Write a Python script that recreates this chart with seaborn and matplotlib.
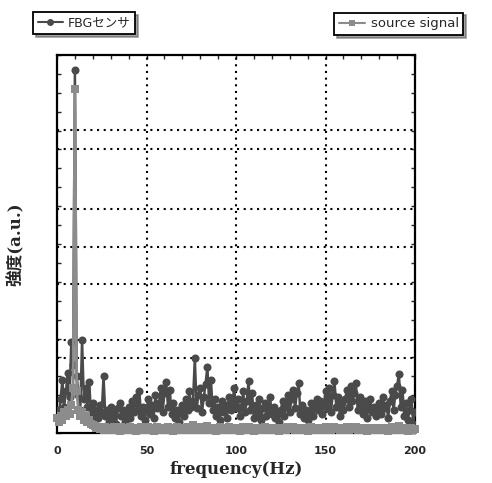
import numpy as np
import pandas as pd
import seaborn as sns
import matplotlib
matplotlib.use("Agg")
import matplotlib.pyplot as plt
from matplotlib.lines import Line2D

# Spectrum sampled every 1 Hz from 0 to 200 Hz
freq_hz = list(range(0, 201))

# FBG sensor amplitude (a.u.)
fbg_sensor = [
    60, 45, 90, 140, 70, 110, 160, 95, 240, 180,
    960, 150, 100, 60, 245, 90, 120, 70, 135, 50,
    80, 35, 60, 40, 75, 55, 150, 45, 60, 30,
    70, 40, 55, 25, 65, 80, 45, 60, 30, 50,
    70, 40, 85, 55, 95, 60, 110, 45, 70, 35,
    60, 90, 50, 75, 40, 100, 65, 80, 120, 55,
    105, 135, 70, 115, 50, 80, 40, 60, 30, 55,
    75, 45, 90, 60, 110, 70, 85, 198, 65, 100,
    120, 55, 95, 130, 175, 80, 140, 60, 90, 45,
    70, 35, 85, 55, 75, 40, 95, 60, 80, 120,
    65, 90, 45, 70, 110, 55, 85, 138, 60, 105,
    40, 75, 50, 90, 35, 65, 80, 45, 60, 95,
    50, 70, 40, 55, 30, 60, 85, 45, 70, 100,
    55, 90, 115, 65, 105, 132, 50, 75, 40, 60,
    35, 55, 80, 45, 70, 90, 60, 85, 50, 75,
    110, 65, 120, 55, 100, 138, 70, 95, 45, 80,
    60, 90, 115, 70, 125, 85, 105, 132, 60, 95,
    75, 50, 85, 40, 65, 90, 55, 70, 45, 60,
    80, 50, 95, 65, 75, 40, 85, 110, 60, 100,
    125, 156, 70, 115, 45, 80, 35, 60, 90, 25,
    55,
]

# Source signal amplitude (a.u.)
source_signal = [
    40, 30, 45, 35, 55, 45, 60, 50, 75, 120,
    910, 110, 60, 45, 55, 35, 45, 30, 35, 25,
    20, 18, 12, 16, 10, 14, 8, 17, 12, 9,
    14, 7, 16, 10, 12, 6, 15, 9, 12, 7,
    11, 16, 8, 13, 6, 14, 10, 17, 7, 12,
    9, 15, 8, 13, 6, 11, 16, 8, 14, 10,
    7, 12, 17, 9, 13, 6, 11, 15, 8, 12,
    10, 14, 7, 16, 9, 12, 20, 8, 13, 10,
    15, 7, 11, 14, 18, 9, 13, 8, 12, 6,
    10, 15, 8, 13, 7, 11, 16, 9, 12, 14,
    8, 12, 6, 11, 15, 9, 13, 17, 8, 12,
    6, 10, 14, 8, 12, 7, 15, 9, 11, 13,
    7, 12, 8, 10, 6, 14, 9, 12, 7, 15,
    10, 13, 16, 8, 12, 14, 7, 11, 8, 13,
    6, 10, 15, 8, 12, 14, 9, 13, 7, 11,
    15, 9, 16, 8, 12, 17, 10, 13, 7, 11,
    9, 14, 16, 8, 15, 11, 13, 17, 7, 12,
    10, 8, 14, 6, 11, 13, 8, 12, 7, 10,
    14, 8, 13, 9, 12, 6, 11, 15, 8, 13,
    16, 18, 9, 14, 7, 12, 6, 10, 13, 7,
    11,
]

x_ticks = [0, 50, 100, 150, 200]
y_grid = [198, 246, 394, 492, 593, 751, 802]

df = pd.DataFrame({"freq": freq_hz, "fbg": fbg_sensor, "src": source_signal})

sns.set_theme(style="white")
plt.rcParams["font.family"] = ["DejaVu Sans", "Noto Sans CJK JP"]

fig = plt.figure(figsize=(4.92, 4.83), dpi=100)
ax = fig.add_axes([57 / 492, 1 - 433 / 483, (415 - 57) / 492, (433 - 55) / 483])

fbg_color = "#4a4a4a"
src_color = "#8c8c8c"

sns.lineplot(data=df, x="freq", y="fbg", ax=ax, color=fbg_color, lw=1.8,
             marker="o", markersize=5.8, markeredgewidth=0,
             markerfacecolor=fbg_color, zorder=3)
sns.lineplot(data=df, x="freq", y="src", ax=ax, color=src_color, lw=2,
             marker="s", markersize=6, markeredgewidth=0,
             markerfacecolor=src_color, zorder=4, clip_on=False)

ax.set_xlim(0, 200)
ax.set_ylim(0, 1000)

# dotted grid
for gx in [50, 100, 150]:
    ax.axvline(gx, color="black", ls=(0, (1, 2.2)), lw=1.5, zorder=1)
for gy in y_grid:
    ax.axhline(gy, color="black", ls=(0, (1, 2.2)), lw=1.5, zorder=1)

ax.set_xticks(x_ticks)
ax.set_xticklabels([str(t) for t in x_ticks], fontsize=8, fontweight="bold")
ax.set_xticks(np.arange(0, 201, 10), minor=True)
ax.set_yticks(np.arange(0, 1001, 50))
ax.set_yticklabels([])
ax.tick_params(axis="x", which="both", direction="in", top=True, bottom=False,
               length=3, width=1, pad=9)
ax.tick_params(axis="y", which="both", direction="in", left=True, right=True,
               length=3, width=1)

for s in ax.spines.values():
    s.set_color("black")
    s.set_linewidth(1.6)

ax.set_xlabel("frequency(Hz)", fontsize=12, fontweight="bold",
              family=["DejaVu Serif", "Noto Sans CJK JP"], labelpad=4)
ax.set_ylabel("強度(a.u.)", fontsize=12, fontweight="bold",
              family=["DejaVu Serif", "Noto Sans CJK JP"], labelpad=20)

# two separate legend boxes above the plot
fbg_handle = Line2D([], [], color=fbg_color, lw=1.5, marker="o", markersize=5,
                    markeredgewidth=0)
src_handle = Line2D([], [], color=src_color, lw=1.5, marker="s", markersize=5,
                    markeredgewidth=0)
leg_kw = dict(frameon=True, fancybox=False, shadow=True,
              borderpad=0.35, handletextpad=0.4, framealpha=1)
leg1 = fig.legend([fbg_handle], ["FBGセンサ"], loc="upper left",
                  bbox_to_anchor=(27 / 492, 1 - 6 / 483), handlelength=2.0,
                  prop={"size": 9, "family": ["DejaVu Sans", "Noto Sans CJK JP"]},
                  **leg_kw)
leg2 = fig.legend([src_handle], ["source signal"], loc="upper right",
                  bbox_to_anchor=(470 / 492, 1 - 6 / 483), handlelength=2.0,
                  prop={"size": 9.5, "family": ["DejaVu Sans", "Noto Sans CJK JP"]},
                  **leg_kw)
for lg in (leg1, leg2):
    lg.get_frame().set_edgecolor("black")
    lg.get_frame().set_linewidth(1.3)

fig.savefig("out.png", dpi=100)
